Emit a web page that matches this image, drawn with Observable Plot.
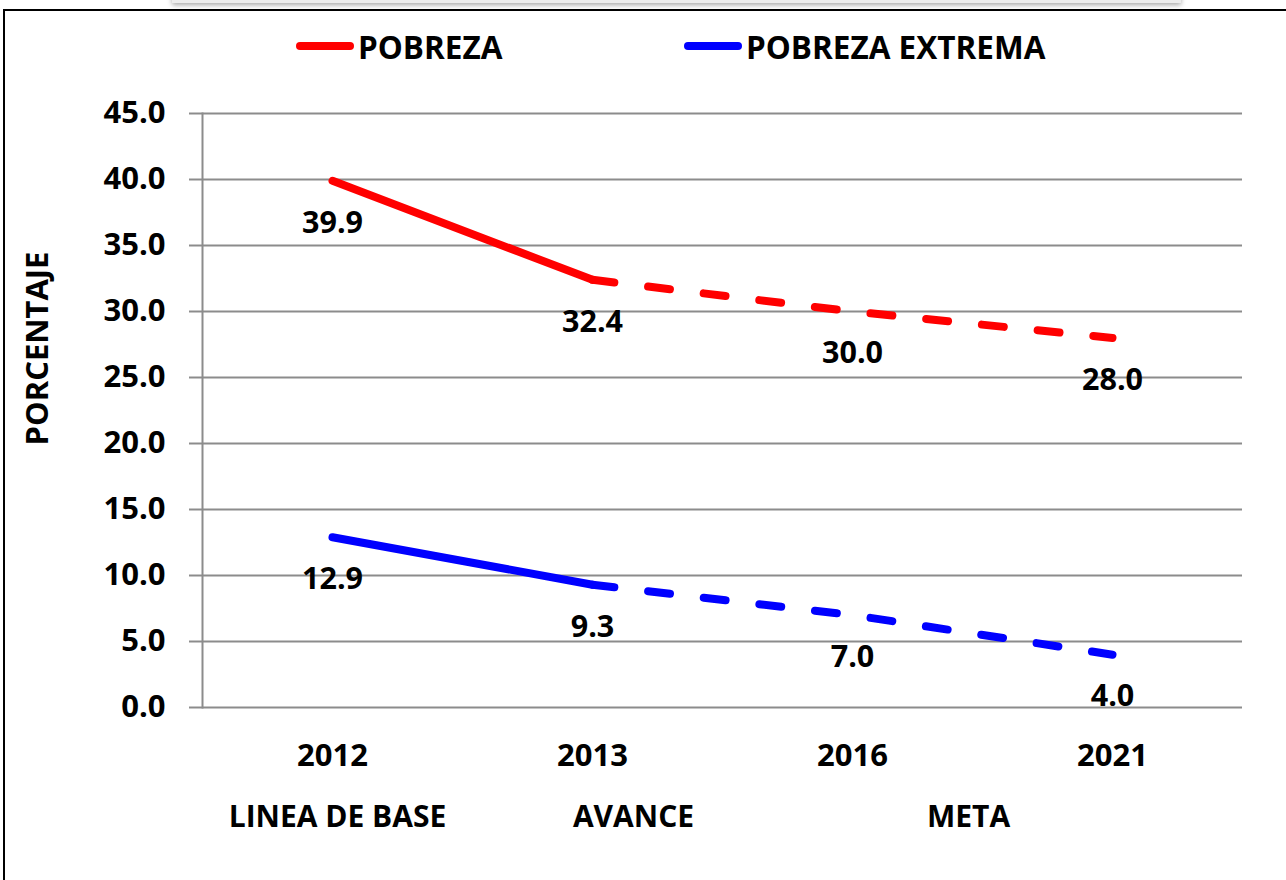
<!DOCTYPE html>
<html>
<head>
<meta charset="utf-8">
<script src="https://cdn.jsdelivr.net/npm/d3@7"></script>
<script src="https://cdn.jsdelivr.net/npm/@observablehq/plot@0.6"></script>
<style>
  html, body { margin: 0; padding: 0; background: #fff; overflow: hidden; }
  #wrap { position: relative; width: 1286px; height: 880px; overflow: hidden; font-family: "Open Sans", sans-serif; font-weight: 700; }
  #frame { position: absolute; left: 3px; top: 9px; width: 1400px; height: 1000px; border: 2px solid #000; box-sizing: border-box; }
  #bar { position: absolute; left: 172px; top: -12px; width: 1009px; height: 15px; background: #ececec; box-shadow: 0 2px 5px rgba(0,0,0,0.35); }
  #chart { position: absolute; left: 0; top: 0; }
  .leg { position: absolute; top: 26px; height: 40px; display: flex; align-items: center; font-size: 31.5px; color: #000; }
  .sw { width: 58px; height: 8px; border-radius: 4px; margin-right: 4px; }
</style>
</head>
<body>
<div id="wrap">
  <div id="bar"></div>
  <div id="frame"></div>
  <div id="chart"></div>
  <div id="legend"></div>
</div>
<script>
const years = ["2012", "2013", "2016", "2021"];
const stages = ["LINEA DE BASE", "AVANCE", "META"];
const stageYears = ["2012", "2013", "2016"];
const pobreza = [39.9, 32.4, 30.0, 28.0];
const extrema = [12.9, 9.3, 7.0, 4.0];
const yTicks = [0, 5, 10, 15, 20, 25, 30, 35, 40, 45];
const seriesNames = ["POBREZA", "POBREZA EXTREMA"];
const seriesColors = ["#ff0000", "#0000ff"];

const rows = [];
[pobreza, extrema].forEach((vals, s) => {
  vals.forEach((v, i) => rows.push({year: years[i], idx: i, value: v, series: seriesNames[s]}));
});
const solid = rows.filter(d => d.idx <= 1);
const dashed = rows.filter(d => d.idx >= 1);

const grid = "#8c8c8c";
const chart = Plot.plot({
  width: 1286,
  height: 880,
  marginLeft: 202,
  marginRight: 44,
  marginTop: 113,
  marginBottom: 173,
  style: {fontFamily: "'Open Sans', sans-serif", fontWeight: 700, fontSize: "30px", color: "#000", background: "transparent", overflow: "visible"},
  x: {type: "point", domain: years, padding: 0.5, label: null},
  y: {domain: [0, 45], label: null},
  color: {domain: seriesNames, range: seriesColors},
  marks: [
    Plot.gridY(yTicks, {stroke: grid, strokeOpacity: 1, strokeWidth: 2}),
    Plot.axisY(yTicks, {tickSize: 13, tickPadding: 24, stroke: grid, strokeWidth: 2, tickFormat: d => d.toFixed(1), label: null, fontSize: 31}),
    Plot.frame({anchor: "left", stroke: grid, strokeWidth: 2}),
    Plot.axisX({tickSize: 0, tickPadding: 36, label: null, fontSize: 31}),
    Plot.lineY(solid, {x: "year", y: "value", z: "series", stroke: "series", strokeWidth: 8, strokeLinecap: "round", strokeLinejoin: "round"}),
    Plot.lineY(dashed, {x: "year", y: "value", z: "series", stroke: "series", strokeWidth: 8, strokeLinecap: "round", strokeLinejoin: "round", strokeDasharray: "22,34"}),
    Plot.text(rows, {x: "year", y: "value", text: d => d.value.toFixed(1), dy: 42, fontSize: 30.5, fill: "#000"}),
    Plot.text([stages[0]], {x: () => stageYears[0], frameAnchor: "bottom", dy: 119, dx: 5, fontSize: 30}),
    Plot.text([stages[1]], {x: () => stageYears[1], frameAnchor: "bottom", dy: 119, dx: 41, fontSize: 30}),
    Plot.text([stages[2]], {x: () => stageYears[2], frameAnchor: "bottom", dy: 119, dx: 116, fontSize: 30}),
    Plot.text(["PORCENTAJE"], {frameAnchor: "left", textAnchor: "middle", rotate: -90, dx: -164, dy: -62, fontSize: 31})
  ]
});
document.getElementById("chart").appendChild(chart);

const legend = document.getElementById("legend");
const legPos = [296, 684];
seriesNames.forEach((name, i) => {
  const item = document.createElement("div");
  item.className = "leg";
  item.style.left = legPos[i] + "px";
  const sw = document.createElement("div");
  sw.className = "sw";
  sw.style.background = seriesColors[i];
  item.appendChild(sw);
  const t = document.createElement("span");
  t.textContent = name;
  item.appendChild(t);
  legend.appendChild(item);
});
</script>
</body>
</html>
